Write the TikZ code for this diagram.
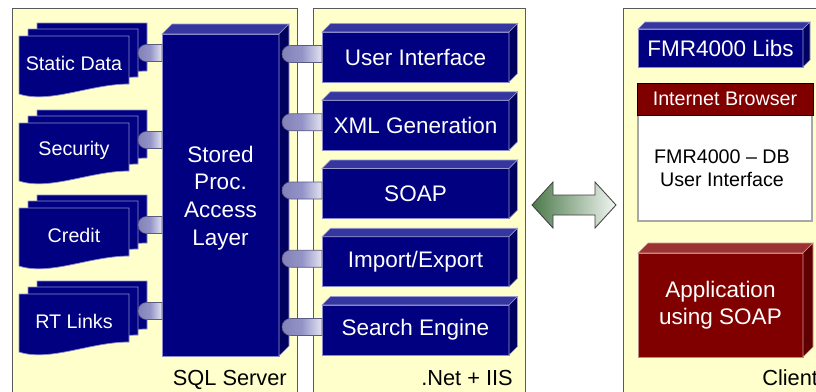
\documentclass[tikz,border=0pt]{standalone}
\usepackage{fontspec}
\setmainfont{Liberation Sans}
\usetikzlibrary{calc}
\definecolor{panelfill}{HTML}{FFFFCC}
\definecolor{panelline}{HTML}{5A5A5A}
\definecolor{navyfront}{HTML}{000080}
\definecolor{navytop}{HTML}{3636A0}
\definecolor{navyside}{HTML}{00005E}
\definecolor{navyedge}{HTML}{8C8CCC}
\definecolor{redfront}{HTML}{800000}
\definecolor{redtop}{HTML}{9C3333}
\definecolor{redside}{HTML}{5E0000}
\definecolor{rededge}{HTML}{C08A8A}
\definecolor{plugdark}{HTML}{8282BA}
\definecolor{plugmid}{HTML}{9494C8}
\definecolor{pluglight}{HTML}{E4E4F2}
\definecolor{arrowgreen}{HTML}{4B7A4B}
\definecolor{arrowpale}{HTML}{F2F5F2}
\definecolor{windowline}{HTML}{A8A8A8}
\newcommand{\bigtext}{\fontsize{16}{19.5}\selectfont}
\newcommand{\talltext}{\fontsize{16}{19.8}\selectfont}
\newcommand{\smalltext}{\fontsize{14}{16.5}\selectfont}
\newcommand{\paneltext}{\fontsize{15.5}{18}\selectfont}
\tikzset{
  pxsize/.style 2 args={minimum width=#1*0.025cm, minimum height=#2*0.025cm},
  panel/.style={draw=panelline, fill=panelfill, line width=0.7pt},
  panellabel/.style={font=\paneltext, text=black, inner sep=0pt},
  block/.style={inner sep=0pt, outer sep=0pt, text=white, align=center,
                font=\bigtext, line width=0.5pt},
  navyblock/.style={block, fill=navyfront, draw=navyedge},
  redblock/.style={block, fill=redfront, draw=rededge},
  docpage/.style={fill=navyfront, draw=navyedge, line width=0.5pt},
  doclabel/.style={text=white, font=\smalltext},
  plugbar/.style={draw=plugdark!70!black, line width=0.4pt,
                  left color=plugdark, right color=pluglight, middle color=plugmid},
  linkarrow/.style={draw=black!75, line width=0.6pt,
                    left color=arrowgreen, right color=arrowpale},
}
% top and right faces behind a block node
\newcommand{\extrude}[4]{%
  \filldraw[fill=#3, draw=#3!50!white, line width=0.4pt]
    (#1.north west) -- ++(#2,-#2) -- ($(#1.north east)+(#2,-#2)$) -- (#1.north east) -- cycle;
  \filldraw[fill=#4, draw=#3!50!white, line width=0.4pt]
    (#1.north east) -- ($(#1.north east)+(#2,-#2)$) -- ($(#1.south east)+(#2,-#2)$)
    -- (#1.south east) -- cycle;}
% three stacked pages with a wavy bottom edge
\newcommand{\docstack}[3]{%
  \foreach \dx/\dy in {18/0, 9/6, 0/13}
    \path[docpage] (19+\dx,#2+\dy) -- (129+\dx,#2+\dy) -- (129+\dx,#2+\dy+48)
      .. controls (90+\dx,#2+\dy+48) and (50+\dx,#2+\dy+68) .. (19+\dx,#2+\dy+58) -- cycle;
  \node[doclabel] (#1) at (74,#2+40) {#3};}
\newcommand{\layerbox}[3]{%
  \node[navyblock, pxsize={187}{50}] (#1) at (415.5,#2) {#3};
  \extrude{#1}{8.5}{navytop}{navyside}}
% round-nosed plug from a point to the edge of a node
\newcommand{\plug}[2]{%
  \path[plugbar] ($(#1)+(8.5,-8.5)$) .. controls ($(#1)+(3.8,-8.5)$) and ($(#1)+(0,-4.7)$) .. (#1)
    .. controls ($(#1)+(0,4.7)$) and ($(#1)+(3.8,8.5)$) .. ($(#1)+(8.5,8.5)$)
    -- ($(#2 |- #1)+(0,8.5)$) -- ($(#2 |- #1)+(0,-8.5)$) -- cycle;}

\begin{document}
\begin{tikzpicture}[x=0.025cm, y=-0.025cm]
  \fill[white] (0,0) rectangle (816,391);
  \useasboundingbox (0,0) rectangle (816,391);

  % panels
  \path[panel] (12,8) rectangle (297,400);
  \path[panel] (313,8) rectangle (525,400);
  \path[panel] (623,8) rectangle (840,400);
  \node[panellabel, anchor=base east] (sqllabel) at (287,385) {SQL Server};
  \node[panellabel, anchor=base east] (netlabel) at (513,385) {.Net + IIS};
  \node[panellabel, anchor=base west] (clientlabel) at (762,385) {Client};

  % SQL Server
  \docstack{static}{23}{Static Data}
  \docstack{security}{110}{Security}
  \docstack{credit}{195}{Credit}
  \docstack{rtlinks}{281}{RT Links}
  \node[navyblock, pxsize={117}{322}] (proc) at (220.5,195) {};
  \node[block, font=\talltext] (proctext) at (220.5,198) {Stored\\Proc.\\Access\\Layer};
  \extrude{proc}{10}{navytop}{navyside}

  % .Net + IIS
  \layerbox{ui}{57}{User Interface}
  \layerbox{xml}{125.25}{XML Generation}
  \layerbox{soap}{193.5}{SOAP}
  \layerbox{impexp}{261.75}{Import/Export}
  \layerbox{search}{330}{Search Engine}

  \foreach \doc in {static, security, credit, rtlinks} {
    \coordinate (\doc-p) at ($(\doc)+(64,-10)$);
    \plug{\doc-p}{proc.west}}
  \foreach \layer in {ui, xml, soap, impexp, search} {
    \coordinate (\layer-p) at ($(\layer.west)+(-40,-3)$);
    \plug{\layer-p}{\layer.west}}

  % Client
  \node[navyblock, pxsize={165}{38}] (libs) at (720.5,48) {FMR4000 Libs};
  \extrude{libs}{7}{navytop}{navyside}
  \node[draw=windowline, line width=1.5pt, fill=white, inner sep=0pt, outer sep=0pt,
        pxsize={174}{137}] (browser) at (725,152.5) {};
  \node[fill=redfront, draw=black, line width=0.6pt, text=white, font=\smalltext,
        inner sep=0pt, outer sep=0pt, pxsize={176}{32}, anchor=north]
        (titlebar) at ($(browser.north)+(0,-1)$) {Internet Browser};
  \node[font=\smalltext, align=center] (dbui) at (722,168) {FMR4000 -- DB\\User Interface};
  \node[redblock, pxsize={165}{104}] (app) at (720.5,305) {Application\\using SOAP};
  \extrude{app}{10}{redtop}{redside}

  % link between server and client
  \path[linkarrow] (532,205) -- (553,182) -- (553,195) -- (595,195) -- (595,182)
    -- (616,205) -- (595,228) -- (595,215) -- (553,215) -- (553,228) -- cycle;
\end{tikzpicture}
\end{document}
